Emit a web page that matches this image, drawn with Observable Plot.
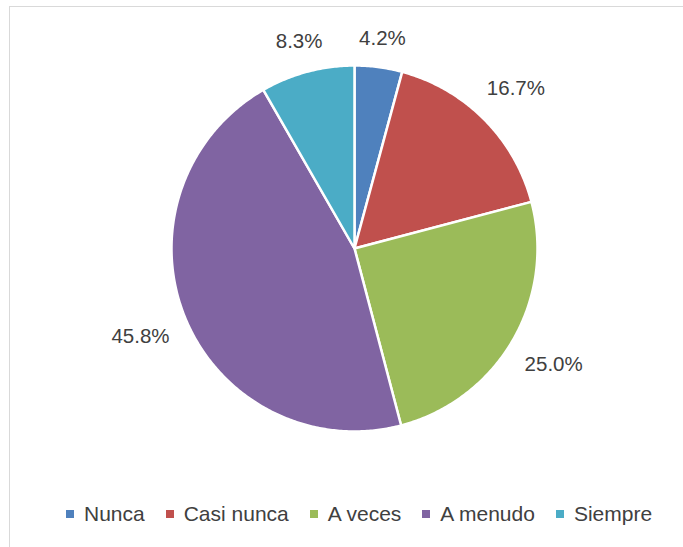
<!DOCTYPE html>
<html>
<head>
<meta charset="utf-8">
<script src="https://cdn.jsdelivr.net/npm/d3@7"></script>
<script src="https://cdn.jsdelivr.net/npm/@observablehq/plot@0.6"></script>
<style>
  html, body { margin: 0; padding: 0; background: #fff; }
  body { width: 683px; height: 547px; overflow: hidden; position: relative; font-family: "Liberation Sans", Arial, sans-serif; }
  #frame { position: absolute; left: 9px; top: 6px; width: 720px; height: 600px; border: 1px solid #d9d9d9; box-sizing: border-box; }
  #chart { position: absolute; left: 0; top: 0; }
  #legend { position: absolute; left: 66px; top: 502px; height: 24px; display: flex; align-items: center; color: #404040; font-size: 21px; white-space: nowrap; }
  .item { display: flex; align-items: center; margin-right: 21px; }
  .sw { width: 8px; height: 8px; margin-right: 10px; }
</style>
</head>
<body>
<div id="frame"></div>
<div id="chart"></div>
<div id="legend"></div>
<script>
const categories = ["Nunca", "Casi nunca", "A veces", "A menudo", "Siempre"];
const values = [4.2, 16.7, 25.0, 45.8, 8.3];
const labels = ["4.2%", "16.7%", "25.0%", "45.8%", "8.3%"];
const colors = ["#4F81BD", "#C0504D", "#9BBB59", "#8064A2", "#4BACC6"];

const R = 183, CX = 354, CY = 248;
const data = categories.map((c, i) => ({cat: c, value: values[i], label: labels[i]}));
const arcs = d3.pie().sort(null).value(d => d.value)(data);

// slice polygons (unit coordinates, angle clockwise from top)
const poly = [];
arcs.forEach(a => {
  const n = Math.max(2, Math.ceil((a.endAngle - a.startAngle) / 0.01));
  poly.push({cat: a.data.cat, x: 0, y: 0});
  for (let k = 0; k <= n; k++) {
    const t = a.startAngle + (a.endAngle - a.startAngle) * k / n;
    poly.push({cat: a.data.cat, x: Math.sin(t), y: Math.cos(t)});
  }
  poly.push({cat: a.data.cat, x: 0, y: 0});
});

// label positions outside each slice
const halfH = 8, gap = 18, charW = 5.9;
const lab = arcs.map(a => {
  const m = (a.startAngle + a.endAngle) / 2;
  const s = Math.sin(m), c = Math.cos(m);
  const halfW = a.data.label.length * charW;
  const r = (R + gap + halfW * Math.abs(s) + halfH * Math.abs(c)) / R;
  return {x: r * s, y: r * c, label: a.data.label};
});

const chart = Plot.plot({
  width: 683,
  height: 495,
  margin: 0,
  style: {fontFamily: '"Liberation Sans", Arial, sans-serif', background: "transparent"},
  x: {domain: [-1, 1], range: [CX - R, CX + R], axis: null},
  y: {domain: [-1, 1], range: [CY + R, CY - R], axis: null},
  color: {domain: categories, range: colors},
  marks: [
    Plot.line(poly, {x: "x", y: "y", z: "cat", fill: "cat", stroke: "white", strokeWidth: 2.5, strokeLinejoin: "round", curve: "linear"}),
    Plot.text(lab, {x: "x", y: "y", text: "label", fill: "#404040", fontSize: 20.5})
  ]
});
document.getElementById("chart").appendChild(chart);

const legend = document.getElementById("legend");
categories.forEach((c, i) => {
  const it = document.createElement("div");
  it.className = "item";
  const sw = document.createElement("div");
  sw.className = "sw";
  sw.style.background = colors[i];
  const tx = document.createElement("span");
  tx.textContent = c;
  it.appendChild(sw);
  it.appendChild(tx);
  legend.appendChild(it);
});
</script>
</body>
</html>
